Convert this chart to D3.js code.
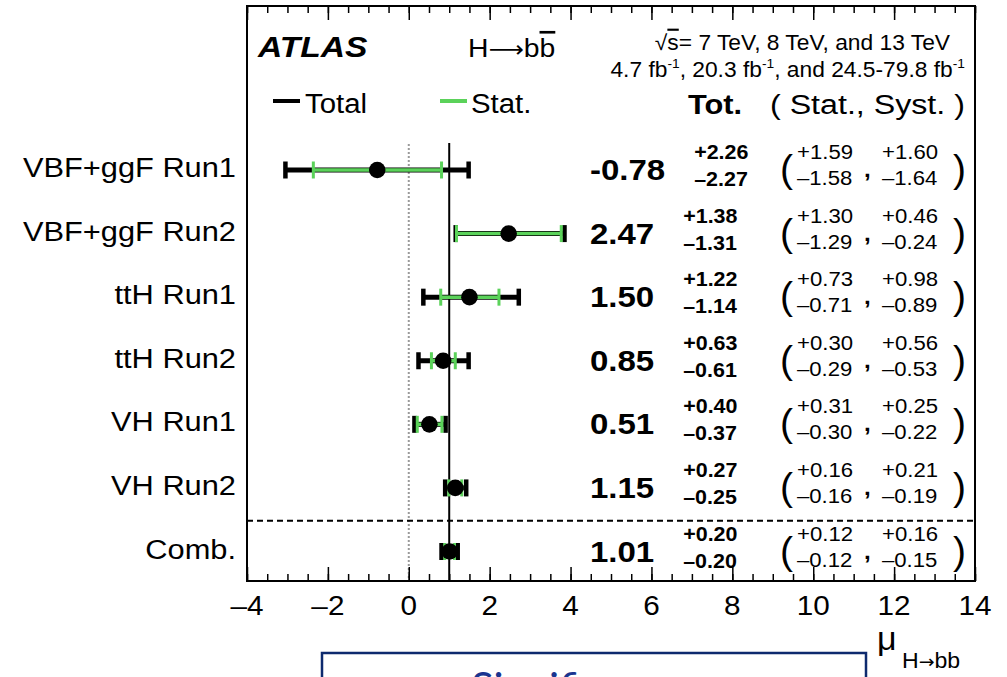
<!DOCTYPE html>
<html><head><meta charset="utf-8">
<script src="https://cdn.jsdelivr.net/npm/d3@7"></script>
<style>
html,body{margin:0;padding:0;background:#fff;}
svg{display:block;font-family:"Liberation Sans",Arial,Helvetica,sans-serif;}
</style></head>
<body>
<svg id="chart" width="1007" height="677"></svg>
<script>
// ---- data ----
const categories = ["VBF+ggF Run1","VBF+ggF Run2","ttH Run1","ttH Run2","VH Run1","VH Run2","Comb."];
const mu      = [-0.78, 2.47, 1.50, 0.85, 0.51, 1.15, 1.01];
const totUp   = [2.26, 1.38, 1.22, 0.63, 0.40, 0.27, 0.20];
const totDn   = [2.27, 1.31, 1.14, 0.61, 0.37, 0.25, 0.20];
const statUp  = [1.59, 1.30, 0.73, 0.30, 0.31, 0.16, 0.12];
const statDn  = [1.58, 1.29, 0.71, 0.29, 0.30, 0.16, 0.12];
const systUp  = [1.60, 0.46, 0.98, 0.56, 0.25, 0.21, 0.16];
const systDn  = [1.64, 0.24, 0.89, 0.53, 0.22, 0.19, 0.15];
const xTicks  = [-4, -2, 0, 2, 4, 6, 8, 10, 12, 14];
const xDomain = [-4, 14];
const smRef = 1, zeroRef = 0;

// ---- layout ----
const svg = d3.select("#chart");
const L = 247, R = 975, T = 6, B = 581;
const SX = 1.1;
const GREEN = "#5bd25a";
const ARROW_FONT = "'DejaVu Sans', sans-serif";
const x = d3.scaleLinear().domain(xDomain).range([L, R]);
const y = d3.scalePoint().domain(categories).range([170, 551.5]);

function txt(g, px, py, s, o = {}) {
  const t = g.append("text")
    .attr("transform", `translate(${px},${py}) scale(${o.sx || SX},1)`)
    .attr("font-size", o.size || 20)
    .attr("text-anchor", o.anchor || "start")
    .attr("fill", o.fill || "#000");
  if (o.bold) t.attr("font-weight", "bold");
  if (o.italic) t.attr("font-style", "italic");
  if (o.family) t.attr("font-family", o.family);
  if (s !== null) t.text(s);
  return t;
}

// reference lines
svg.append("line").attr("x1", x(zeroRef)).attr("x2", x(zeroRef)).attr("y1", 144).attr("y2", B)
  .attr("stroke", "#9a9a9a").attr("stroke-width", 2).attr("stroke-dasharray", "2,2");
svg.append("line").attr("x1", x(smRef)).attr("x2", x(smRef)).attr("y1", 143).attr("y2", B)
  .attr("stroke", "#000").attr("stroke-width", 2);

// dashed separator before combination
const sepY = (y(categories[5]) + y(categories[6])) / 2 + 1;
svg.append("line").attr("x1", L).attr("x2", R).attr("y1", sepY).attr("y2", sepY)
  .attr("stroke", "#000").attr("stroke-width", 2).attr("stroke-dasharray", "6,4");

// axes
const minor = d3.range(-4, 14.01, 0.5);
const axB = svg.append("g").attr("transform", `translate(0,${B})`)
  .call(d3.axisBottom(x).tickValues(minor).tickSize(-7).tickFormat(""));
axB.select(".domain").remove();
const axB2 = svg.append("g").attr("transform", `translate(0,${B})`)
  .call(d3.axisBottom(x).tickValues(xTicks).tickSize(-14).tickFormat(""));
axB2.select(".domain").remove();
const axT = svg.append("g").attr("transform", `translate(0,${T})`)
  .call(d3.axisTop(x).tickValues(minor).tickSize(-7).tickFormat(""));
axT.select(".domain").remove();
const axT2 = svg.append("g").attr("transform", `translate(0,${T})`)
  .call(d3.axisTop(x).tickValues(xTicks).tickSize(-14).tickFormat(""));
axT2.select(".domain").remove();
svg.selectAll(".tick line").attr("stroke", "#000").attr("stroke-width", 1.5);

xTicks.forEach(v => {
  txt(svg, x(v), 615, (v < 0 ? "\u2013" : "") + Math.abs(v), { size: 27, anchor: "middle" });
});

// frame
svg.append("rect").attr("x", L).attr("y", T).attr("width", R - L).attr("height", B - T)
  .attr("fill", "none").attr("stroke", "#000").attr("stroke-width", 2);

// error bars
const rows = categories.map((c, i) => ({ c, i }));
const capH = 8.5;
const gErr = svg.append("g");
rows.forEach(({ c, i }) => {
  const yy = y(c);
  const lo = x(mu[i] - totDn[i]), hi = x(mu[i] + totUp[i]);
  gErr.append("line").attr("x1", lo).attr("x2", hi).attr("y1", yy).attr("y2", yy)
    .attr("stroke", "#000").attr("stroke-width", 5);
  [lo, hi].forEach(px => gErr.append("line").attr("x1", px).attr("x2", px)
    .attr("y1", yy - capH).attr("y2", yy + capH).attr("stroke", "#000").attr("stroke-width", 4.5));
  const slo = x(mu[i] - statDn[i]), shi = x(mu[i] + statUp[i]);
  gErr.append("line").attr("x1", slo).attr("x2", shi).attr("y1", yy).attr("y2", yy)
    .attr("stroke", GREEN).attr("stroke-width", 3.5);
  [slo, shi].forEach(px => gErr.append("line").attr("x1", px).attr("x2", px)
    .attr("y1", yy - capH).attr("y2", yy + capH).attr("stroke", GREEN).attr("stroke-width", 3));
  gErr.append("circle").attr("cx", x(mu[i])).attr("cy", yy).attr("r", 8.3).attr("fill", "#000");
});

// row labels and numbers
const fmt = d3.format(".2f");
rows.forEach(({ c, i }) => {
  const yy = y(c);
  txt(svg, 236, yy + 7, c, { size: 28, anchor: "end", sx: 1.1 });
  const vt = txt(svg, 590, yy + 10, (mu[i] < 0 ? "-" : "") + fmt(Math.abs(mu[i])), { size: 30, bold: true });
  const w = vt.node().getComputedTextLength() * SX;
  const tx = 590 + w + 29;
  txt(svg, tx, yy - 11, "+" + fmt(totUp[i]), { size: 19.5, bold: true });
  txt(svg, tx, yy + 16, "\u2013" + fmt(totDn[i]), { size: 19.5, bold: true });
  txt(svg, 780, yy + 12, "(", { size: 39, sx: 1 });
  txt(svg, 797, yy - 11, "+" + fmt(statUp[i]), { size: 20.5, sx: 1.08 });
  txt(svg, 797, yy + 15, "\u2013" + fmt(statDn[i]), { size: 20.5, sx: 1.08 });
  txt(svg, 864, yy + 7, ",", { size: 22, bold: true });
  txt(svg, 882, yy - 11, "+" + fmt(systUp[i]), { size: 20.5, sx: 1.08 });
  txt(svg, 882, yy + 15, "\u2013" + fmt(systDn[i]), { size: 20.5, sx: 1.08 });
  txt(svg, 953, yy + 12, ")", { size: 39, sx: 1 });
});

// header
txt(svg, 258, 57, "ATLAS", { size: 30, bold: true, italic: true, sx: 1.12 });
const hb = txt(svg, 468, 57, null, { size: 26.5, sx: 1.07 });
hb.append("tspan").text("H");
hb.append("tspan").attr("font-family", ARROW_FONT).attr("font-size", 23).text("\u27F6");
hb.append("tspan").text("b");
hb.append("tspan").text("b").style("text-decoration", "overline");

const l1 = txt(svg, 950, 50, null, { size: 21.5, anchor: "end", sx: 1.06 });
l1.append("tspan").text("\u221A");
l1.append("tspan").text("s").style("text-decoration", "overline");
l1.append("tspan").text("= 7 TeV, 8 TeV, and 13 TeV");

const l2 = txt(svg, 965, 77, null, { size: 21.5, anchor: "end", sx: 1.06 });
const sup = (t) => { l2.append("tspan").attr("font-size", 13).attr("dy", -9).text("-1"); l2.append("tspan").attr("dy", 9).text(t); };
l2.append("tspan").text("4.7 fb"); sup(", 20.3 fb"); sup(", and 24.5-79.8 fb");
l2.append("tspan").attr("font-size", 13).attr("dy", -9).text("-1");

// legend
svg.append("line").attr("x1", 273).attr("x2", 300).attr("y1", 101).attr("y2", 101).attr("stroke", "#000").attr("stroke-width", 4);
txt(svg, 305, 113, "Total", { size: 28, sx: 1.05 });
svg.append("line").attr("x1", 440).attr("x2", 467).attr("y1", 101).attr("y2", 101).attr("stroke", GREEN).attr("stroke-width", 4);
txt(svg, 471, 113, "Stat.", { size: 28, sx: 1.05 });
txt(svg, 688, 114, "Tot.", { size: 27.5, bold: true, sx: 1.12 });
txt(svg, 770, 114, "( Stat., Syst. )", { size: 28, sx: 1.15 });

// axis title
txt(svg, 877, 650, "\u03BC", { size: 34, sx: 1.0 });
const at = txt(svg, 902, 668, null, { size: 22, sx: 1.05 });
at.append("tspan").text("H");
at.append("tspan").attr("font-family", ARROW_FONT).attr("font-size", 18).text("\u2192");
at.append("tspan").text("bb");

// bottom overlay box
svg.append("rect").attr("x", 322).attr("y", 653).attr("width", 544).attr("height", 60)
  .attr("fill", "#fff").attr("stroke", "#0d2a6e").attr("stroke-width", 2.5);
txt(svg, 471, 703, "Significance", { size: 42, fill: "#1a3590", family: "Lato, 'Open Sans', sans-serif", sx: 1 });
</script>
</body></html>
